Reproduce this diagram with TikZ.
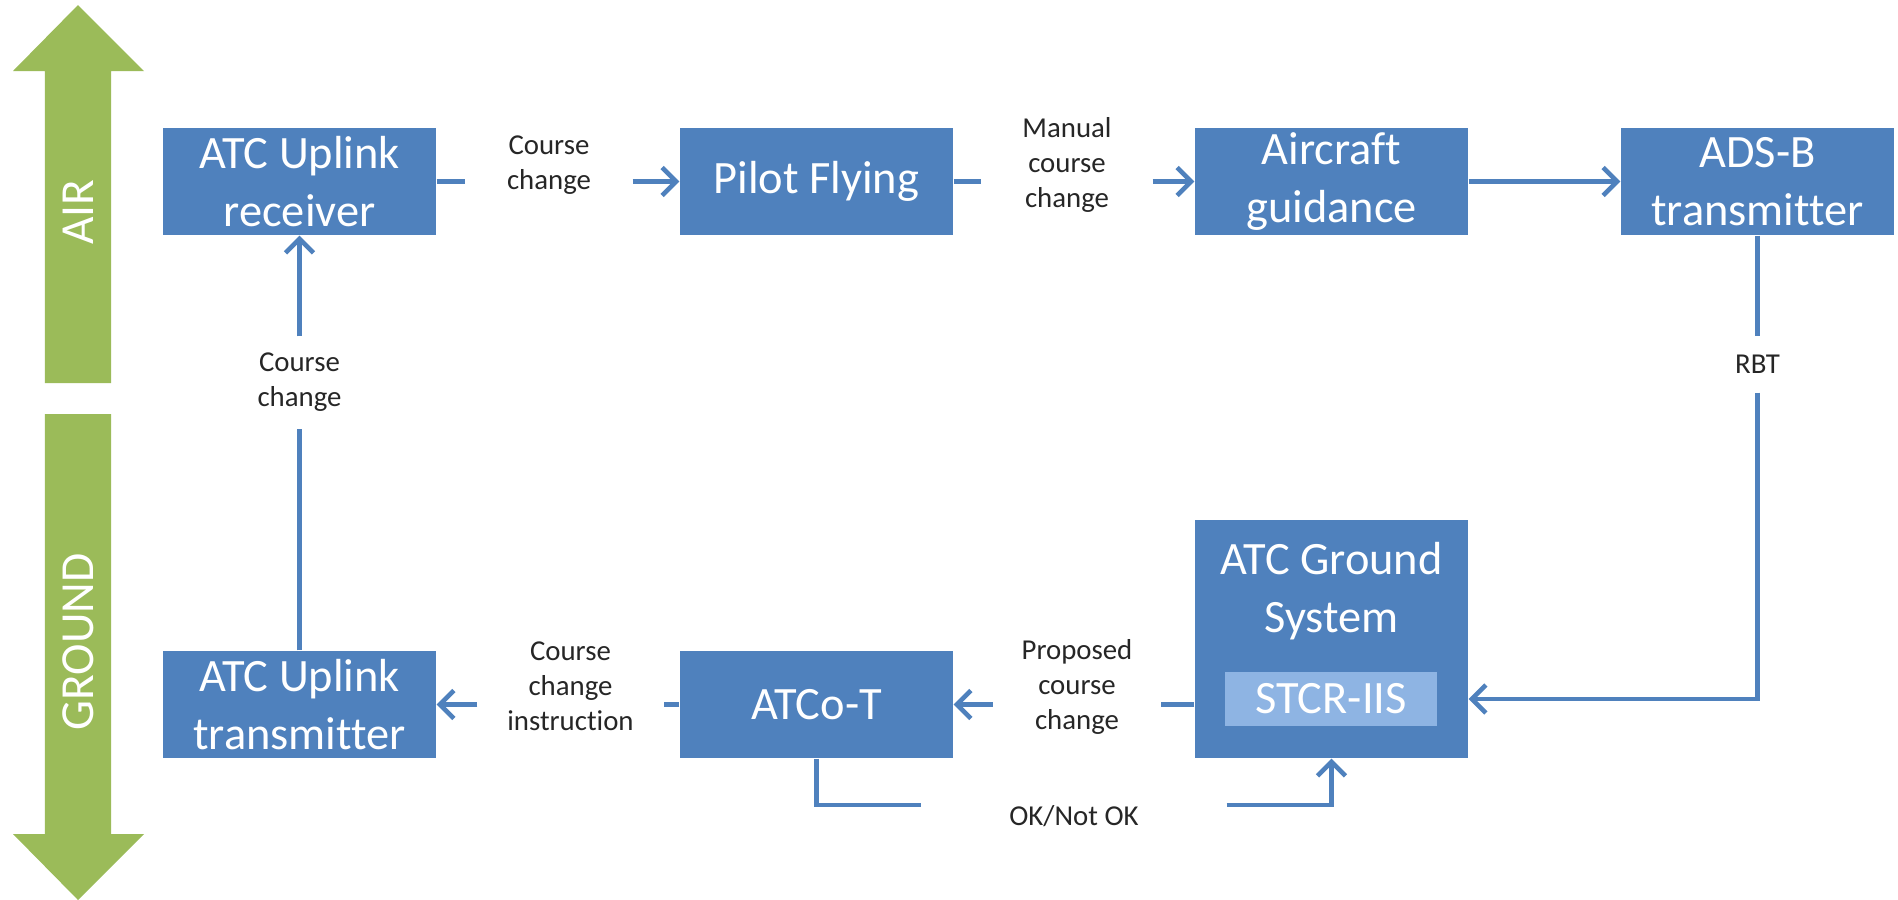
\documentclass[tikz,border=0pt]{standalone}
\usepackage{fontspec}
\setmainfont{Carlito}[Ligatures=NoCommon]
\usetikzlibrary{positioning,arrows.meta}
\definecolor{boxblue}{HTML}{4F81BD}
\definecolor{subblue}{HTML}{8EB4E3}
\definecolor{leaf}{HTML}{9BBB59}
\definecolor{ink}{HTML}{262626}

\begin{document}
\begin{tikzpicture}[>={Straight Barb[length=1.4mm,width=2.8mm]},
    flow/.style={draw=boxblue, line width=1.3pt},
    blk/.style={fill=boxblue, text=white, minimum width=2.73cm, minimum height=1.07cm,
      inner sep=0pt, align=center, font=\fontsize{13.2}{16.5}\selectfont},
    lbl/.style={text=ink, inner sep=0pt, align=center, font=\fontsize{8.2}{10}\selectfont}]
  \useasboundingbox (0,0) rectangle (18.98,-9);

  % air / ground band on the left
  \fill[leaf] (0.45,-3.83) -- (0.45,-0.71) -- (0.13,-0.71) -- (0.78,-0.05)
    -- (1.44,-0.71) -- (1.11,-0.71) -- (1.11,-3.83) -- cycle;
  \fill[leaf] (0.45,-4.14) -- (0.45,-8.34) -- (0.13,-8.34) -- (0.78,-9)
    -- (1.44,-8.34) -- (1.11,-8.34) -- (1.11,-4.14) -- cycle;
  \node[text=white, rotate=90, font=\fontsize{13.5}{16}\selectfont] (air) at (0.78,-2.12) {AIR};
  \node[text=white, rotate=90, font=\fontsize{13.5}{16}\selectfont] (ground) at (0.78,-6.42) {GROUND};

  % blocks
  \node[blk] (rx) at (2.995,-1.815) {ATC Uplink\\receiver};
  \node[blk] (pf) at (8.165,-1.815) {Pilot Flying};
  \node[blk] (ag) at (13.315,-1.815) {Aircraft\\guidance};
  \node[blk] (ads) at (17.575,-1.815) {ADS-B\\transmitter};
  \node[blk] (tx) at (2.995,-7.045) {ATC Uplink\\transmitter};
  \node[blk] (atco) at (8.165,-7.045) {ATCo-T};
  \node[blk, minimum height=2.38cm] (gs) at (13.315,-6.39) {};
  \node[text=white, align=center, inner sep=0pt, font=\fontsize{13.2}{16.5}\selectfont]
    (gsname) at (13.315,-5.91) {ATC Ground\\System};
  \node[fill=subblue, text=white, minimum width=2.12cm, minimum height=0.54cm, inner sep=0pt,
    font=\fontsize{13.2}{16.5}\selectfont] (stcr) at (13.31,-6.99) {STCR-IIS};

  % flow labels
  \node[lbl, minimum width=1.66cm] (c1) at (5.49,-1.65) {Course\\change};
  \node[lbl, minimum width=1.70cm] (c2) at (10.67,-1.65) {Manual\\course\\change};
  \node[lbl, minimum height=0.55cm] (rbt) at (17.575,-3.645) {RBT};
  \node[lbl, minimum width=1.67cm] (c3) at (10.77,-6.87) {Proposed\\course\\change};
  \node[lbl, minimum width=1.85cm] (c4) at (5.705,-6.86) {Course\\change\\instruction};
  \node[lbl, minimum height=0.91cm] (c5) at (2.995,-3.825) {Course\\change};
  \node[lbl, minimum width=3.04cm, anchor=north] (ok) at (10.74,-8.05) {OK/Not OK};

  % connectors
  \draw[flow] (rx.east) -- (rx.east -| c1.west);
  \draw[flow,->] (c1.east |- pf.west) -- (pf.west);
  \draw[flow] (pf.east) -- (pf.east -| c2.west);
  \draw[flow,->] (c2.east |- ag.west) -- (ag.west);
  \draw[flow,->] (ag) -- (ads);
  \draw[flow] (ads.south) -- (rbt.north);
  \draw[flow,->] (rbt.south) |- (gs.east |- stcr.east);
  \draw[flow] (gs.west |- atco.east) -- (c3.east |- atco.east);
  \draw[flow,->] (c3.west |- atco.east) -- (atco.east);
  \draw[flow] (atco.west) -- (atco.west -| c4.east);
  \draw[flow,->] (c4.west |- tx.east) -- (tx.east);
  \draw[flow] (tx.north) -- (c5.south);
  \draw[flow,->] (c5.north) -- (rx.south);
  \draw[flow] (atco.south) |- (ok.north west);
  \draw[flow,->] (ok.north east) -| (gs.south);
\end{tikzpicture}
\end{document}
